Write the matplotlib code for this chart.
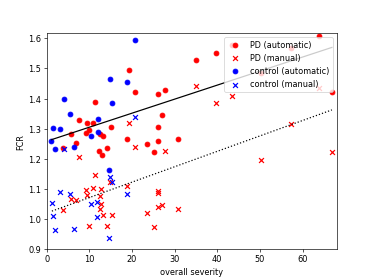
import matplotlib
matplotlib.use('Agg')
import matplotlib.pyplot as plt
import numpy as np

# PD patients, automatic FCR
pd_auto_x = [3.9, 5.7, 6.9, 7.5, 9.2, 9.5, 10.0, 10.9, 11.4, 12.3, 12.5, 13.0, 13.3, 14.2, 15.1,
             18.8, 19.2, 20.8, 23.5, 25.2, 26.0, 26.0, 26.2, 27.1, 27.8, 30.8, 34.9, 39.7,
             43.4, 50.3, 57.3, 63.8, 66.9]
pd_auto_y = [1.237, 1.283, 1.254, 1.329, 1.287, 1.320, 1.294, 1.318, 1.389, 1.226, 1.283, 1.213,
             1.277, 1.235, 1.305, 1.265, 1.496, 1.423, 1.250, 1.223, 1.260, 1.416, 1.306, 1.344,
             1.429, 1.266, 1.528, 1.551, 1.578, 1.486, 1.569, 1.606, 1.422]

# PD patients, manual FCR
pd_man_x = [3.9, 5.6, 6.8, 7.5, 9.3, 9.5, 9.9, 10.9, 11.3, 12.4, 12.5, 12.7, 12.8, 13.3, 14.1,
            14.9, 15.3, 18.8, 19.2, 20.7, 23.5, 25.2, 26.0, 26.2, 26.2, 27.0, 27.7, 30.8, 34.9,
            39.7, 43.5, 50.3, 57.3, 63.8, 66.9]
pd_man_y = [1.030, 1.066, 1.064, 1.206, 1.097, 1.080, 0.976, 1.104, 1.145, 1.075, 1.034, 1.099,
            1.050, 1.014, 0.977, 1.122, 1.014, 1.111, 1.320, 1.238, 1.021, 0.972, 1.041, 1.093,
            1.087, 1.046, 1.225, 1.034, 1.440, 1.384, 1.408, 1.196, 1.315, 1.436, 1.222]

# controls
ctl_auto_x = [1.1, 1.5, 2.0, 3.1, 4.1, 5.4, 6.5, 10.3, 12.0, 12.0, 14.5, 14.9, 15.3, 18.8, 20.8]
ctl_auto_y = [1.258, 1.302, 1.233, 1.299, 1.398, 1.349, 1.240, 1.276, 1.331, 1.290, 1.163,
              1.466, 1.385, 1.454, 1.593]
ctl_man_x = [1.2, 1.5, 2.0, 3.1, 4.1, 5.5, 6.5, 10.3, 11.9, 11.9, 14.6, 14.9, 15.4, 18.8, 20.7]
ctl_man_y = [1.053, 1.010, 0.962, 1.091, 1.232, 1.082, 0.968, 1.051, 1.058, 1.006, 0.938,
             1.141, 1.124, 1.082, 1.340]

fig, ax = plt.subplots(figsize=(6.4, 4.8), dpi=374 / 6.4)

ax.scatter(pd_auto_x, pd_auto_y, c='red', marker='o', label='PD (automatic)')
ax.scatter(pd_man_x, pd_man_y, c='red', marker='x', label='PD (manual)')
ax.scatter(ctl_auto_x, ctl_auto_y, c='blue', marker='o', label='control (automatic)')
ax.scatter(ctl_man_x, ctl_man_y, c='blue', marker='x', label='control (manual)')

# linear fits, automatic and manual
ax_x = np.array(pd_auto_x + ctl_auto_x)
ax_y = np.array(pd_auto_y + ctl_auto_y)
mx_x = np.array(pd_man_x + ctl_man_x)
mx_y = np.array(pd_man_y + ctl_man_y)
p_auto = np.polyfit(ax_x, ax_y, 1)
p_man = np.polyfit(mx_x, mx_y, 1)
print(p_auto, p_man)
xs = np.linspace(ax_x.min(), ax_x.max(), 50)
ax.plot(xs, np.polyval(p_auto, xs), 'k-')
xs = np.linspace(mx_x.min(), mx_x.max(), 50)
ax.plot(xs, np.polyval(p_man, xs), 'k:')

ax.set_xlim(0, 68)
ax.set_ylim(0.9, 1.617)
ax.set_xlabel('overall severity')
ax.set_ylabel('FCR')
ax.legend(loc='upper right')

plt.savefig('out.png')
